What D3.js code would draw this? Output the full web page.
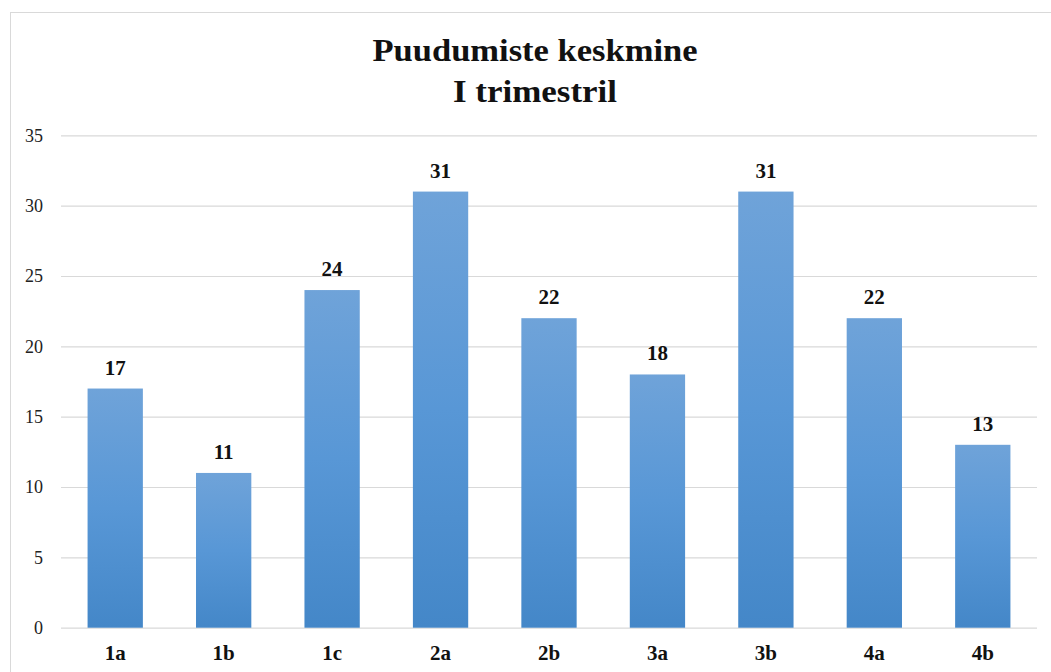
<!DOCTYPE html>
<html>
<head>
<meta charset="utf-8">
<title>Puudumiste keskmine</title>
<script src="https://d3js.org/d3.v7.min.js"></script>
<style>
  body { margin: 0; background: #fff; }
  svg text { font-family: "Liberation Serif", "DejaVu Serif", serif !important; }
</style>
</head>
<body>
<svg id="chart" width="1051" height="672"></svg>
<script>
// data
var classes = ["1a", "1b", "1c", "2a", "2b", "3a", "3b", "4a", "4b"];
var absences = [17, 11, 24, 31, 22, 18, 31, 22, 13];
var yTicks = [0, 5, 10, 15, 20, 25, 30, 35];
var titleLines = ["Puudumiste keskmine", "I trimestril"];
var titleWidths = [325, 164];

var svg = d3.select("#chart");
var margin = {left: 61, right: 1037, top: 135.3, bottom: 627.7};

// frame
svg.append("rect")
  .attr("x", 10.5).attr("y", 12.5)
  .attr("width", 1050).attr("height", 700)
  .attr("fill", "#fff")
  .attr("stroke", "#d9d9d9");

var x = d3.scaleBand().domain(classes).range([margin.left, margin.right]).paddingInner(0.49).paddingOuter(0.245);
var y = d3.scaleLinear().domain([0, 35]).range([margin.bottom, margin.top]);

// gradient for bars
var grad = svg.append("defs").append("linearGradient")
  .attr("id", "barGrad").attr("x1", 0).attr("y1", 0).attr("x2", 0).attr("y2", 1);
grad.append("stop").attr("offset", "0%").attr("stop-color", "#6fa3d9");
grad.append("stop").attr("offset", "50%").attr("stop-color", "#5897d6");
grad.append("stop").attr("offset", "100%").attr("stop-color", "#4487c8");

// gridlines + y labels
var yAxis = d3.axisLeft(y).tickValues(yTicks).tickSize(-(margin.right - margin.left)).tickPadding(18);
var gy = svg.append("g").attr("transform", "translate(" + margin.left + ",0)").call(yAxis);
gy.select(".domain").remove();
gy.selectAll(".tick line").attr("stroke", "#d9d9d9").attr("stroke-width", 1.2);
gy.selectAll(".tick text")
  .attr("font-size", 18).attr("fill", "#222");

// bars
svg.selectAll(".bar").data(absences).enter().append("rect")
  .attr("class", "bar")
  .attr("x", function(d, i) { return x(classes[i]); })
  .attr("y", function(d) { return y(d); })
  .attr("width", x.bandwidth())
  .attr("height", function(d) { return y(0) - y(d); })
  .attr("fill", "url(#barGrad)");

// value labels
svg.selectAll(".val").data(absences).enter().append("text")
  .attr("class", "val")
  .attr("x", function(d, i) { return x(classes[i]) + x.bandwidth() / 2; })
  .attr("y", function(d) { return y(d) - 14; })
  .attr("text-anchor", "middle")
  .attr("font-size", 21).attr("font-weight", "bold").attr("fill", "#111")
  .text(function(d) { return d; });

// category labels
var xAxis = d3.axisBottom(x).tickSize(0).tickPadding(0);
var gx = svg.append("g").attr("transform", "translate(0," + margin.bottom + ")").call(xAxis);
gx.select(".domain").remove();
gx.selectAll(".tick text")
  .attr("dy", null).attr("y", 32)
  .attr("font-size", 21).attr("font-weight", "bold").attr("fill", "#111");

// title
svg.append("g").selectAll("text").data(titleLines).enter().append("text")
  .attr("x", 535)
  .attr("y", function(d, i) { return 61 + i * 41; })
  .attr("text-anchor", "middle")
  .attr("font-size", 31).attr("font-weight", "bold").attr("fill", "#111")
  .attr("textLength", function(d, i) { return titleWidths[i]; })
  .attr("lengthAdjust", "spacingAndGlyphs")
  .text(function(d) { return d; });
</script>
</body>
</html>
